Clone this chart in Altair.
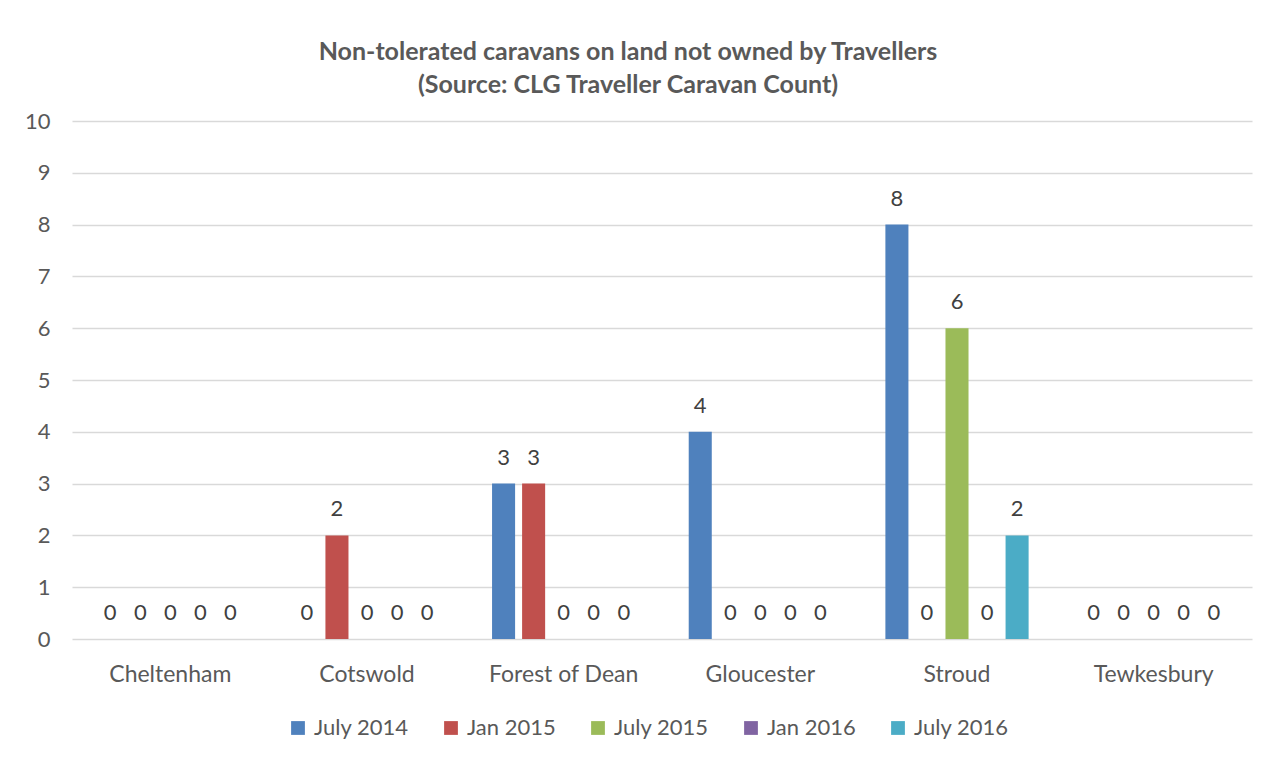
import altair as alt
import pandas as pd

categories = ["Cheltenham", "Cotswold", "Forest of Dean", "Gloucester", "Stroud", "Tewkesbury"]
series = ["July 2014", "Jan 2015", "July 2015", "Jan 2016", "July 2016"]
colors = ["#4F81BD", "#C0504D", "#9BBB59", "#8064A2", "#4BACC6"]
values = {
    "July 2014": [0, 0, 3, 4, 8, 0],
    "Jan 2015": [0, 2, 3, 0, 0, 0],
    "July 2015": [0, 0, 0, 0, 6, 0],
    "Jan 2016": [0, 0, 0, 0, 0, 0],
    "July 2016": [0, 0, 0, 0, 2, 0],
}

rows = []
for s in series:
    for c, v in zip(categories, values[s]):
        rows.append({"District": c, "Series": s, "Count": v})
df = pd.DataFrame(rows)

FONT = "Lato"
GREY = "#595959"

x = alt.X("District:N", sort=categories, title=None,
          scale=alt.Scale(paddingInner=0.236, paddingOuter=0.118),
          axis=alt.Axis(labelAngle=0, ticks=False, domain=False, labelPadding=24,
                        labelFontSize=23, labelColor=GREY, labelFont=FONT))
xo = alt.XOffset("Series:N", sort=series,
                 scale=alt.Scale(paddingInner=0.233, paddingOuter=0.117))
y = alt.Y("Count:Q", title=None,
          scale=alt.Scale(domain=[0, 10], nice=False),
          axis=alt.Axis(values=list(range(0, 11)), ticks=False, domain=False,
                        labelPadding=22, labelFontSize=22, labelColor=GREY,
                        labelFont=FONT, gridColor="#D9D9D9", gridWidth=1.3))
color = alt.Color("Series:N", sort=series,
                  scale=alt.Scale(domain=series, range=colors),
                  legend=alt.Legend(title=None, orient="none", direction="horizontal",
                                    legendX=215, legendY=596, symbolType="square",
                                    symbolSize=190, symbolStrokeWidth=0,
                                    labelFontSize=22, labelColor=GREY, labelFont=FONT,
                                    columnPadding=31, symbolOffset=0, labelOffset=5))

base = alt.Chart(df).encode(x=x, xOffset=xo, y=y)

bars = base.mark_bar().encode(color=color)
labels = base.mark_text(dy=-26, baseline="middle", fontSize=22, color="#404040",
                        font=FONT).encode(text=alt.Text("Count:Q"))

chart = (bars + labels).properties(
    width=1180,
    height=518,
    autosize=alt.AutoSizeParams(type="none"),
    padding={"left": 64, "top": 113, "right": 14, "bottom": 110},
    title=alt.TitleParams(
        text=["Non-tolerated caravans on land not owned by Travellers",
              "(Source: CLG Traveller Caravan Count)"],
        fontSize=25, font=FONT, fontWeight="bold", color=GREY,
        anchor="middle", dx=-34, offset=12, lineHeight=33,
    ),
).configure(background="white").configure_view(stroke=None, strokeWidth=0)

chart.save("out.html", embed_options={"renderer": "svg", "actions": False})
